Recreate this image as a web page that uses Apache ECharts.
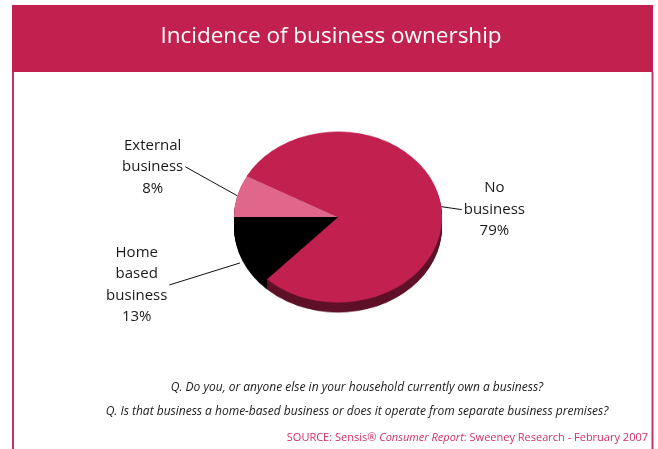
<!DOCTYPE html>
<html>
<head>
<meta charset="utf-8">
<script src="https://cdn.jsdelivr.net/npm/echarts@6/dist/echarts.min.js"></script>
<style>
  html, body { margin: 0; padding: 0; background: #fff; }
  #wrap { position: relative; width: 658px; height: 449px; overflow: hidden; }
  #main, #pie { position: absolute; left: 0; top: 0; width: 658px; height: 449px; }
  #pie { pointer-events: none; transform-origin: 338px 217px; transform: scaleY(0.822); }
</style>
</head>
<body>
<div id="wrap">
  <div id="main"></div>
  <div id="pie"></div>
</div>
<script>
// Survey shares, in slice order (clockwise from 9 o'clock)
const categories = ['External business', 'No business', 'Home based business'];
const shares = [8, 79, 13];
const topColors = ['#E0678B', '#C2214F', '#000000'];
const sideColors = ['#8C3554', '#5E1128', '#000000'];

const titleText = 'Incidence of business ownership';
const questions = [
  'Q. Do you, or anyone else in your household currently own a business?',
  'Q. Is that business a home-based business or does it operate from separate business premises?'
];

// Pie geometry (screen pixels)
const CX = 338, CY = 217, RX = 104, RY = 85.5, DEPTH = 10;
const SQUASH = RY / RX;
const START = 180;
const FONT = '"Open Sans", "Noto Sans", sans-serif';

// Leader line layout per slice: anchor nudge, line end offset from anchor, label side
const leaderLayout = [
  { nudge: [0, 0],    end: [-52, -29], side: -1 },
  { nudge: [0, 3],    end: [21, 3],    side: 1 },
  { nudge: [-2.6, 12], end: [-70.6, 22], side: -1 }
];

const total = shares.reduce((a, b) => a + b, 0);
function midAngle(i) {
  let before = 0;
  for (let k = 0; k < i; k++) before += shares[k];
  return (START - 360 * (before + shares[i] / 2) / total) * Math.PI / 180;
}

const sliceData = categories.map((name, i) => ({ name, value: shares[i] }));

// ---------- flattened 3D pie ----------
const pieChart = echarts.init(document.getElementById('pie'), null, { renderer: 'canvas' });
const pieSeries = [];
const layers = 14;
const depthUnits = DEPTH / SQUASH;
for (let k = layers; k >= 1; k--) {
  pieSeries.push({
    type: 'pie',
    silent: true,
    z: 1,
    center: [CX, CY + depthUnits * k / layers],
    radius: RX,
    startAngle: START,
    clockwise: true,
    label: { show: false },
    labelLine: { show: false },
    itemStyle: { borderWidth: 0 },
    data: sliceData.map((d, i) => ({ name: d.name, value: d.value, itemStyle: { color: sideColors[i] } }))
  });
}
pieSeries.push({
  type: 'pie',
  silent: true,
  z: 2,
  center: [CX, CY],
  radius: RX,
  startAngle: START,
  clockwise: true,
  label: { show: false },
  labelLine: { show: false },
  itemStyle: { borderWidth: 0 },
  data: sliceData.map((d, i) => ({ name: d.name, value: d.value, itemStyle: { color: topColors[i] } }))
});
pieChart.setOption({ animation: false, series: pieSeries });

// ---------- frame, texts and slice labels ----------
const chart = echarts.init(document.getElementById('main'), null, { renderer: 'canvas' });
chart.setOption({
  animation: false,
  backgroundColor: '#ffffff',
  graphic: [
    { type: 'rect', silent: true, shape: { x: 12, y: 5, width: 641, height: 67 }, style: { fill: '#C2214F' } },
    { type: 'rect', silent: true, shape: { x: 12, y: 72, width: 2, height: 380 }, style: { fill: '#C93462' } },
    { type: 'rect', silent: true, shape: { x: 651.5, y: 72, width: 2, height: 380 }, style: { fill: '#C93462' } },
    { type: 'text', silent: true, style: { x: 331, y: 37, text: titleText, fill: '#ffffff', font: '22.5px ' + FONT, textAlign: 'center', textVerticalAlign: 'middle' } },
    { type: 'text', silent: true, style: { x: 357, y: 388, text: questions[0], fill: '#1a1a1a', font: 'italic 12px ' + FONT, textAlign: 'center', textVerticalAlign: 'middle' } },
    { type: 'text', silent: true, style: { x: 357, y: 412, text: questions[1], fill: '#1a1a1a', font: 'italic 12px ' + FONT, textAlign: 'center', textVerticalAlign: 'middle' } },
    {
      type: 'text', silent: true,
      style: {
        x: 648, y: 438, align: 'right', verticalAlign: 'middle',
        text: '{n|SOURCE: Sensis® }{i|Consumer Report}{n|: Sweeney Research - February 2007}',
        rich: {
          n: { fontFamily: FONT, fontSize: 11, fill: '#D2306A' },
          i: { fontFamily: FONT, fontSize: 11, fontStyle: 'italic', fill: '#D2306A' }
        }
      }
    }
  ],
  series: [{
    type: 'pie',
    silent: true,
    center: [CX, CY],
    radius: RX,
    startAngle: START,
    clockwise: true,
    avoidLabelOverlap: false,
    itemStyle: { color: 'rgba(0,0,0,0)', borderWidth: 0 },
    label: {
      show: true,
      position: 'outside',
      formatter: p => p.name.split(' ').concat(p.value + '%').map(s => '{t|' + s + '}').join('\n'),
      rich: { t: { align: 'center', fontFamily: FONT, fontSize: 15, lineHeight: 21.5, color: '#1a1a1a' } }
    },
    labelLine: { show: true, lineStyle: { color: '#111', width: 1 } },
    labelLayout: p => {
      const i = p.dataIndex;
      const L = leaderLayout[i];
      const a = midAngle(i);
      const ax = CX + RX * Math.cos(a) + L.nudge[0];
      const ay = CY - RY * Math.sin(a) + L.nudge[1];
      const ex = ax + L.end[0], ey = ay + L.end[1];
      const w = p.labelRect.width;
      return {
        x: ex + L.side * (2 + w / 2),
        y: ey,
        align: 'center',
        verticalAlign: 'middle',
        hideOverlap: false,
        labelLinePoints: [[ax, ay], [(ax + ex) / 2, (ay + ey) / 2], [ex, ey]]
      };
    },
    data: sliceData
  }]
});
</script>
</body>
</html>
